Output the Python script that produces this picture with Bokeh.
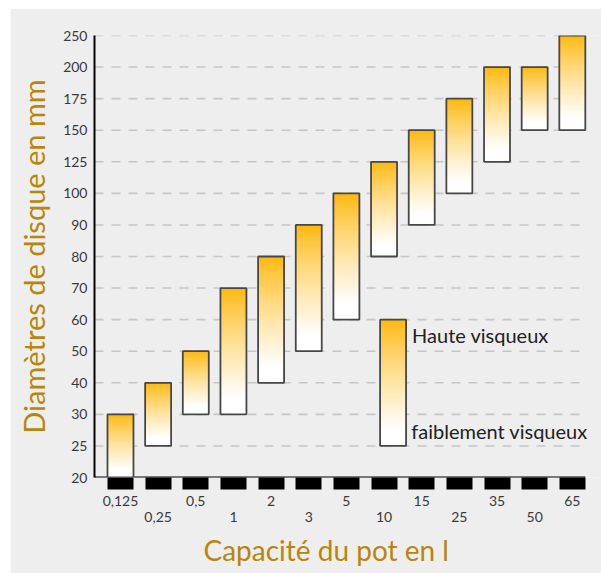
from bokeh.plotting import figure
from bokeh.models import FixedTicker, LinearAxis, Label, Spacer, Title
from bokeh.layouts import column, row
from bokeh.embed import file_html
from bokeh.resources import INLINE

# Pot capacities (litres) and the recommended disc diameter range (mm)
capacities = ["0,125", "0,25", "0,5", "1", "2", "3", "5", "10", "15", "25", "35", "50", "65"]
diam_low = [20, 25, 30, 30, 40, 50, 60, 80, 90, 100, 125, 150, 150]   # faiblement visqueux
diam_high = [30, 40, 50, 70, 80, 90, 100, 125, 150, 175, 200, 200, 250]  # haute visqueux

# Non-linear diameter scale: each listed value gets one equal step
y_ticks = [20, 25, 30, 40, 50, 60, 70, 80, 90, 100, 125, 150, 175, 200, 250]

# Legend bar range
legend_low, legend_high = 25, 60
legend_pos = 7.24

FONT = "Lato"
TITLE_COLOR = "#b8860b"
TEXT_COLOR = "#3a3a3a"
TOP_COLOR = (255, 182, 6)
BG = "#eeeeee"


def ypos(v):
    return y_ticks.index(v)


def shade(t):
    s = min(1.0, t / 0.88) ** 0.8
    r, g, b = (round(c * (1 - s) + 255 * s) for c in TOP_COLOR)
    return "#%02x%02x%02x" % (r, g, b)


N_SLICES = 48
BAR_W = 0.69
X_START = -0.69
X_LAST = len(capacities) - 1 + BAR_W / 2   # right edge of the last bar

p = figure(width=591, height=565, output_backend="svg", toolbar_location=None,
           x_range=(X_START, X_LAST + 0.43), y_range=(0, len(y_ticks) - 1),
           min_border_left=84, min_border_right=0, min_border_top=27, min_border_bottom=96)
p.background_fill_color = BG
p.border_fill_color = BG
p.outline_line_color = None
p.grid.grid_line_color = None

# dashed horizontal guide lines, stopping at the last bar
grid_levels = list(range(1, len(y_ticks)))
p.segment(x0=[X_START] * len(grid_levels), x1=[X_LAST] * len(grid_levels),
          y0=grid_levels, y1=grid_levels,
          line_color="#c6c6c6", line_width=1.6, line_dash="9 8")

# base line of the chart
p.segment(x0=[X_START], x1=[X_LAST], y0=[0], y1=[0], line_color="black", line_width=2)


def gradient_bar(xc, lo, hi):
    # each band runs from its own top down to the bar's base, so the
    # lighter bands drawn later overlap the darker ones with no seams
    y0, y1 = ypos(lo), ypos(hi)
    h = (y1 - y0) / N_SLICES
    lefts, rights, tops, bottoms, colors = [], [], [], [], []
    for k in range(N_SLICES):
        lefts.append(xc - BAR_W / 2)
        rights.append(xc + BAR_W / 2)
        tops.append(y1 - k * h)
        bottoms.append(y0)
        colors.append(shade((k + 0.5) / N_SLICES))
    p.quad(left=lefts, right=rights, top=tops, bottom=bottoms,
           fill_color=colors, line_color=None)
    p.quad(left=[xc - BAR_W / 2], right=[xc + BAR_W / 2], top=[y1], bottom=[y0],
           fill_color=None, line_color="#474747", line_width=1.8)


for i in range(len(capacities)):
    gradient_bar(i, diam_low[i], diam_high[i])

# legend bar and its two labels
gradient_bar(legend_pos, legend_low, legend_high)
p.add_layout(Label(x=legend_pos + BAR_W / 2 + 0.16, y=ypos(legend_high) - 0.5,
                   text="Haute visqueux", text_font=FONT, text_font_size="20px",
                   text_color="#222222", text_baseline="middle"))
p.add_layout(Label(x=legend_pos + BAR_W / 2 + 0.14, y=ypos(legend_low) + 0.48,
                   text="faiblement visqueux", text_font=FONT, text_font_size="20px",
                   text_color="#222222", text_baseline="middle"))

# y axis
yax = p.yaxis[0]
yax.ticker = FixedTicker(ticks=list(range(len(y_ticks))))
yax.major_label_overrides = {i: str(v) for i, v in enumerate(y_ticks)}
yax.major_tick_out = 0
yax.major_tick_in = 0
yax.minor_tick_out = 0
yax.minor_tick_in = 0
yax.axis_line_color = "black"
yax.axis_line_width = 2
yax.major_label_text_font = FONT
yax.major_label_text_font_size = "14px"
yax.major_label_text_color = TEXT_COLOR
yax.major_label_standoff = 7
yax.axis_label = "Diamètres de disque en mm"
yax.axis_label_text_font = FONT
yax.axis_label_text_font_size = "29px"
yax.axis_label_text_font_style = "normal"
yax.axis_label_text_color = TITLE_COLOR
yax.axis_label_standoff = 9

# x axis: black blocks as ticks, staggered labels on two rows
cat_ticks = list(range(len(capacities)))
xax = p.xaxis[0]
xax.ticker = FixedTicker(ticks=cat_ticks)
xax.major_label_overrides = {i: (c if i % 2 == 0 else "") for i, c in enumerate(capacities)}
xax.axis_line_color = None
xax.major_tick_line_color = "black"
xax.major_tick_line_width = 26
xax.major_tick_out = 12
xax.major_tick_in = 0
xax.minor_tick_out = 0
xax.minor_tick_in = 0
xax.major_label_text_font = FONT
xax.major_label_text_font_size = "14px"
xax.major_label_text_color = TEXT_COLOR
xax.major_label_standoff = 6

xax2 = LinearAxis(ticker=FixedTicker(ticks=cat_ticks))
xax2.major_label_overrides = {i: (c if i % 2 == 1 else "") for i, c in enumerate(capacities)}
xax2.axis_line_color = None
xax2.major_tick_out = 0
xax2.major_tick_in = 0
xax2.minor_tick_out = 0
xax2.minor_tick_in = 0
xax2.major_label_text_font = FONT
xax2.major_label_text_font_size = "14px"
xax2.major_label_text_color = TEXT_COLOR
xax2.major_label_standoff = 3
p.add_layout(xax2, "below")

# x axis title, set under the tick rows
p.add_layout(Title(text="Capacité du pot en l", align="left", offset=109,
                   text_font=FONT, text_font_size="28px", text_font_style="normal",
                   text_color=TITLE_COLOR, standoff=12), "below")

layout = column(Spacer(height=8), row(Spacer(width=10), p), spacing=0)
layout.styles = {"background-color": "white"}

open("out.html", "w").write(file_html(layout, INLINE))
